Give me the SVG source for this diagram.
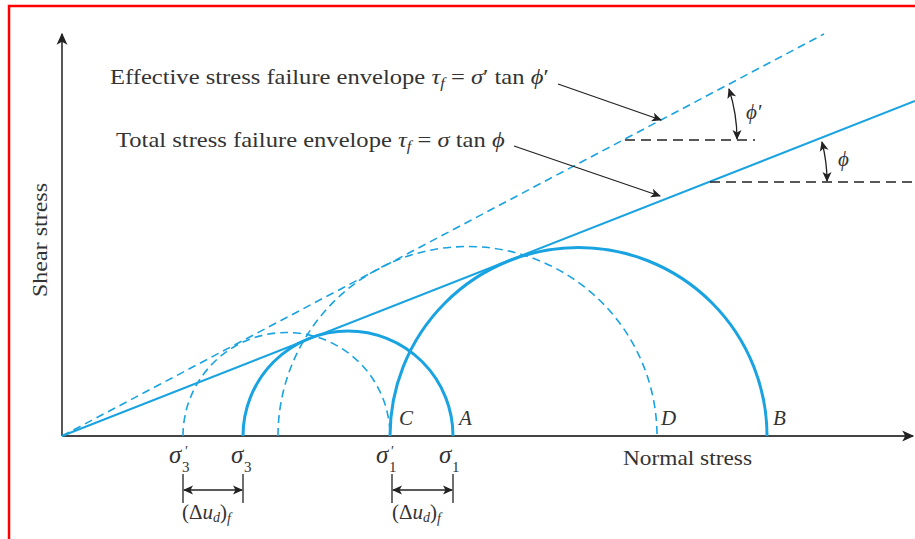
<svg xmlns="http://www.w3.org/2000/svg" width="915" height="539" viewBox="0 0 915 539">
<defs>
<marker id="ah" viewBox="0 0 10 10" refX="9" refY="5" markerWidth="12" markerHeight="10" markerUnits="userSpaceOnUse" orient="auto-start-reverse"><path d="M0,0.5 L10,5 L0,9.5 L2.5,5 Z" fill="#222"/></marker>
<marker id="ahb" viewBox="0 0 10 10" refX="9" refY="5" markerWidth="14" markerHeight="12" markerUnits="userSpaceOnUse" orient="auto-start-reverse"><path d="M0,0.5 L10,5 L0,9.5 L2.5,5 Z" fill="#222"/></marker>
<style>
.t{font-family:"Liberation Serif","Times New Roman",serif;font-size:21px;fill:#333}
.i{font-style:italic}
.s{font-size:14px}
.g{font-size:25px}
.gs{font-size:15px}
.pr{font-family:"Liberation Serif",serif;font-size:14px;fill:#333}
.solid{fill:none;stroke:#19a3e0;stroke-width:3}
.env{fill:none;stroke:#19a3e0;stroke-width:2}
.dash{fill:none;stroke:#19a3e0;stroke-width:1.6;stroke-dasharray:8,5}
.ax{stroke:#444;stroke-width:1.8;fill:none}
.blk{stroke:#222;stroke-width:1.3;fill:none}
.hd{stroke:#222;stroke-width:1.5;fill:none;stroke-dasharray:10,6}
</style>
</defs>
<rect id="frame" x="9" y="6" width="920" height="545" fill="none" stroke="#f00" stroke-width="2.5"/>
<g id="axes">
<line class="ax" x1="62" y1="436" x2="62" y2="34" marker-end="url(#ahb)"/>
<line class="ax" x1="62" y1="436" x2="913" y2="436" marker-end="url(#ahb)"/>
<text class="t" transform="translate(47,240) rotate(-90)" text-anchor="middle" textLength="114" lengthAdjust="spacingAndGlyphs">Shear stress</text>
<text class="t" x="623" y="465" textLength="129" lengthAdjust="spacingAndGlyphs">Normal stress</text>
</g>
<g id="circles">
<path id="circle-small-eff" class="dash" d="M183,436 A103.5,103.5 0 0 1 390,436"/>
<path id="circle-big-eff" class="dash" d="M278,436 A189.5,189.5 0 0 1 657,436"/>
<path id="circle-small-tot" class="solid" d="M243,436 A105,105 0 0 1 453,436"/>
<path id="circle-big-tot" class="solid" d="M390,436 A188.5,188.5 0 0 1 767,436"/>
</g>
<g id="envelopes">
<line id="env-eff" class="dash" x1="62" y1="436" x2="824" y2="34"/>
<line id="env-tot" class="env" x1="62" y1="436" x2="915" y2="101"/>
</g>
<g id="connectors">
<line class="hd" x1="625" y1="140" x2="755" y2="140"/>
<line class="hd" x1="710" y1="182" x2="915" y2="182"/>
<path class="blk" d="M729,89 Q737,114 737,139" marker-start="url(#ah)" marker-end="url(#ah)"/>
<path class="blk" d="M822,142 Q827,162 827,181" marker-start="url(#ah)" marker-end="url(#ah)"/>
<line class="blk" x1="558" y1="84" x2="661" y2="120" marker-end="url(#ah)"/>
<line class="blk" x1="514" y1="146" x2="660" y2="196" marker-end="url(#ah)"/>
<line class="blk" x1="183" y1="474" x2="183" y2="503"/>
<line class="blk" x1="243" y1="474" x2="243" y2="503"/>
<line class="blk" x1="184" y1="490" x2="242" y2="490" marker-start="url(#ah)" marker-end="url(#ah)"/>
<line class="blk" x1="392" y1="474" x2="392" y2="503"/>
<line class="blk" x1="453" y1="474" x2="453" y2="503"/>
<line class="blk" x1="393" y1="490" x2="452" y2="490" marker-start="url(#ah)" marker-end="url(#ah)"/>
</g>
<g id="labels">
<text class="t" transform="translate(110,84) scale(1.17,1)">Effective stress failure envelope <tspan class="i">τ</tspan><tspan class="i s" dy="4">f</tspan><tspan dy="-4"> = </tspan><tspan class="i">σ</tspan>′ tan <tspan class="i">ϕ</tspan>′</text>
<text class="t" transform="translate(116,147) scale(1.17,1)">Total stress failure envelope <tspan class="i">τ</tspan><tspan class="i s" dy="4">f</tspan><tspan dy="-4"> = </tspan><tspan class="i">σ</tspan> tan <tspan class="i">ϕ</tspan></text>
<text class="t i" x="746" y="119">ϕ′</text>
<text class="t i" x="838" y="166">ϕ</text>
<text class="t i" x="399" y="425">C</text>
<text class="t i" x="459" y="425">A</text>
<text class="t i" x="661" y="425">D</text>
<text class="t i" x="773" y="425">B</text>
<text class="t i g" x="169" y="463">σ</text>
<text class="t gs" x="182" y="472">3</text>
<text class="pr" x="185" y="456">′</text>
<text class="t i g" x="231" y="463">σ</text>
<text class="t gs" x="244" y="472">3</text>
<text class="t i g" x="376" y="463">σ</text>
<text class="t gs" x="389" y="472">1</text>
<text class="pr" x="391" y="456">′</text>
<text class="t i g" x="439" y="463">σ</text>
<text class="t gs" x="452" y="472">1</text>
<text class="t" x="182" y="519">(Δ<tspan class="i">u</tspan><tspan class="i s" dy="3">d</tspan><tspan dy="-3">)</tspan><tspan class="i s" dy="4">f</tspan></text>
<text class="t" x="392" y="519">(Δ<tspan class="i">u</tspan><tspan class="i s" dy="3">d</tspan><tspan dy="-3">)</tspan><tspan class="i s" dy="4">f</tspan></text>
</g>
</svg>
